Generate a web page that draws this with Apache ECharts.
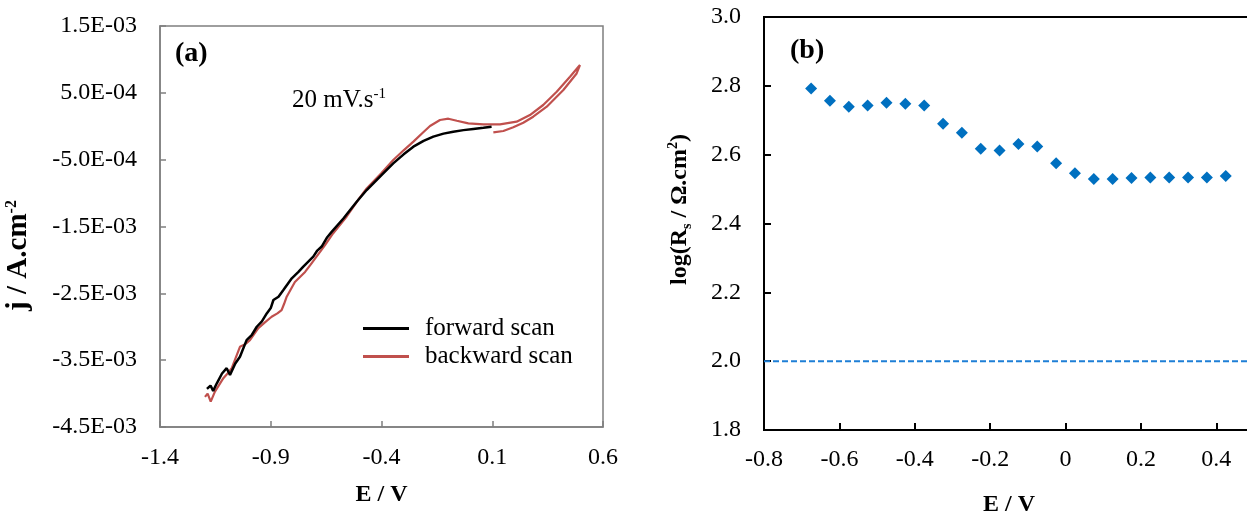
<!DOCTYPE html>
<html>
<head>
<meta charset="utf-8">
<script src="https://cdn.jsdelivr.net/npm/echarts@6/dist/echarts.min.js"></script>
<style>html,body{margin:0;padding:0;background:#fff}#c{width:1247px;height:515px}</style>
</head>
<body>
<div id="c"></div>
<script>
// ---------- Panel (a): linear sweep, E (V) vs j (A/cm^2) ----------
const forwardE = [-1.188,-1.172,-1.160,-1.144,-1.120,-1.099,-1.084,-1.060,-1.039,-1.009,-0.985,-0.963,-0.940,-0.918,-0.900,-0.888,-0.865,-0.843,-0.805,-0.775,-0.753,-0.708,-0.690,-0.670,-0.645,-0.625,-0.572,-0.512,-0.467,-0.400,-0.347,-0.300,-0.256,-0.210,-0.166,-0.120,-0.076,-0.030,0.0145,0.060,0.097];
const forwardJ = [-3.93e-3,-3.88e-3,-3.96e-3,-3.85e-3,-3.70e-3,-3.62e-3,-3.72e-3,-3.55e-3,-3.45e-3,-3.20e-3,-3.12e-3,-3.00e-3,-2.92e-3,-2.80e-3,-2.72e-3,-2.60e-3,-2.55e-3,-2.45e-3,-2.275e-3,-2.18e-3,-2.10e-3,-1.95e-3,-1.86e-3,-1.80e-3,-1.66e-3,-1.58e-3,-1.38e-3,-1.13e-3,-0.954e-3,-0.73e-3,-0.555e-3,-0.42e-3,-0.306e-3,-0.22e-3,-0.156e-3,-0.11e-3,-0.081e-3,-0.058e-3,-0.04e-3,-0.022e-3,-0.007e-3];

const backwardE = [-1.197,-1.185,-1.171,-1.152,-1.135,-1.114,-1.095,-1.076,-1.060,-1.039,-1.015,-0.994,-0.956,-0.925,-0.896,-0.870,-0.851,-0.840,-0.828,-0.791,-0.745,-0.720,-0.700,-0.655,-0.618,-0.557,-0.505,-0.467,-0.400,-0.347,-0.300,-0.256,-0.215,-0.181,-0.136,-0.098,-0.060,-0.008,0.060,0.135,0.210,0.270,0.330,0.391,0.451,0.496,0.481,0.421,0.346,0.285,0.240,0.195,0.150,0.105];
const backwardJ = [-4.05e-3,-4.00e-3,-4.12e-3,-3.97e-3,-3.88e-3,-3.77e-3,-3.70e-3,-3.62e-3,-3.48e-3,-3.30e-3,-3.26e-3,-3.20e-3,-3.02e-3,-2.93e-3,-2.85e-3,-2.80e-3,-2.75e-3,-2.66e-3,-2.55e-3,-2.33e-3,-2.18e-3,-2.07e-3,-1.98e-3,-1.78e-3,-1.60e-3,-1.35e-3,-1.10e-3,-0.93e-3,-0.70e-3,-0.505e-3,-0.36e-3,-0.23e-3,-0.10e-3,0.004e-3,0.093e-3,0.113e-3,0.083e-3,0.044e-3,0.029e-3,0.029e-3,0.068e-3,0.168e-3,0.318e-3,0.517e-3,0.741e-3,0.916e-3,0.79e-3,0.542e-3,0.292e-3,0.143e-3,0.053e-3,-0.016e-3,-0.071e-3,-0.091e-3];

const xTicksA = [-1.4,-0.9,-0.4,0.1,0.6];
const yTicksA = [-4.5e-3,-3.5e-3,-2.5e-3,-1.5e-3,-5.0e-4,5.0e-4,1.5e-3];

// ---------- Panel (b): log(Rs) vs E ----------
const rsE = [-0.675,-0.625,-0.575,-0.525,-0.475,-0.425,-0.375,-0.325,-0.275,-0.225,-0.175,-0.125,-0.075,-0.025,0.025,0.075,0.125,0.175,0.225,0.275,0.325,0.375,0.425];
const rsLog = [2.792,2.757,2.739,2.743,2.751,2.748,2.743,2.690,2.664,2.617,2.612,2.631,2.624,2.575,2.546,2.529,2.529,2.532,2.534,2.534,2.534,2.534,2.538];
const refLevel = 2.0;
const refE = [-0.8, 0.5];

const xTicksB = [-0.8,-0.6,-0.4,-0.2,0,0.2,0.4];
const yTicksB = [1.8,2.0,2.2,2.4,2.6,2.8,3.0];

const FONT = 'Liberation Serif';
const zip = (a, b) => a.map((v, i) => [v, b[i]]);
const sci = v => {
  const parts = v.toExponential(1).split('e');
  const e = parseInt(parts[1], 10);
  return parts[0] + 'E' + (e < 0 ? '-' : '+') + String(Math.abs(e)).padStart(2, '0');
};

const chart = echarts.init(document.getElementById('c'), null, {renderer: 'canvas'});
const grayLine = {color: '#7f7f7f', width: 1.5};
const blackLine = {color: '#000', width: 2};
const TICK = 24;

chart.setOption({
  animation: false,
  backgroundColor: '#fff',
  textStyle: {fontFamily: FONT},
  title: [
    {text: '(a)', left: 175, top: 40, padding: 0,
     textStyle: {fontSize: 28, fontWeight: 'bold', color: '#000', fontFamily: FONT}},
    {text: '(b)', left: 790, top: 37, padding: 0,
     textStyle: {fontSize: 28, fontWeight: 'bold', color: '#000', fontFamily: FONT}},
    {text: '{n|20 mV.s}{s|-1}', left: 292, top: 87, padding: 0,
     textStyle: {fontFamily: FONT, fontWeight: 'normal', color: '#000', rich: {
       n: {fontSize: 25, fontWeight: 'normal', fontFamily: FONT, color: '#000', lineHeight: 26},
       s: {fontSize: 15, fontWeight: 'normal', fontFamily: FONT, color: '#000', verticalAlign: 'top', lineHeight: 26}
     }}}
  ],
  legend: {
    data: ['forward scan', 'backward scan'],
    orient: 'vertical', left: 363, top: 316, padding: 0,
    icon: 'rect', itemWidth: 46, itemHeight: 3, itemGap: 3,
    textStyle: {fontSize: 25, color: '#000', fontFamily: FONT, padding: [0, 0, 0, 11]}
  },
  grid: [
    {left: 160, top: 26, width: 443, height: 401, show: true, borderColor: '#7f7f7f', borderWidth: 1.5, outerBoundsMode: 'none', containLabel: false},
    {left: 764, top: 17, width: 490, height: 413, show: true, borderColor: '#000', borderWidth: 2, outerBoundsMode: 'none', containLabel: false}
  ],
  xAxis: [
    {type: 'value', gridIndex: 0, min: -1.4, max: 0.6,
     axisLine: {show: true, onZero: false, lineStyle: grayLine},
     axisTick: {show: true, inside: true, length: 6, customValues: xTicksA, lineStyle: grayLine},
     axisLabel: {customValues: xTicksA, formatter: v => v.toFixed(1), fontSize: TICK, color: '#000', fontFamily: FONT, margin: 19},
     splitLine: {show: false},
     name: 'E / V', nameLocation: 'middle', nameGap: 56,
     nameTextStyle: {fontWeight: 'bold', fontSize: 24, color: '#000', fontFamily: FONT}},
    {type: 'value', gridIndex: 1, min: -0.8, max: 0.5,
     axisLine: {show: true, onZero: false, lineStyle: blackLine},
     axisTick: {show: true, inside: true, length: 7, customValues: xTicksB, lineStyle: blackLine},
     axisLabel: {customValues: xTicksB, formatter: v => (Math.abs(v) < 1e-9 ? '0' : v.toFixed(1)), fontSize: TICK, color: '#000', fontFamily: FONT, margin: 18},
     splitLine: {show: false},
     name: 'E / V', nameLocation: 'middle', nameGap: 63,
     nameTextStyle: {fontWeight: 'bold', fontSize: 24, color: '#000', fontFamily: FONT}}
  ],
  yAxis: [
    {type: 'value', gridIndex: 0, min: -4.5e-3, max: 1.5e-3,
     axisLine: {show: true, onZero: false, lineStyle: grayLine},
     axisTick: {show: true, inside: true, length: 6, customValues: yTicksA, lineStyle: grayLine},
     axisLabel: {customValues: yTicksA, formatter: v => sci(v), fontSize: TICK, color: '#000', fontFamily: FONT, margin: 23},
     splitLine: {show: false},
     name: '{b|j / A.cm}{p|-2}', nameLocation: 'middle', nameGap: 126, nameRotate: 90,
     nameTextStyle: {fontWeight: 'bold', fontSize: 29, color: '#000', fontFamily: FONT, padding: [0, 58, 0, 0],
       rich: {
         b: {fontWeight: 'bold', fontSize: 29, color: '#000', fontFamily: FONT, lineHeight: 30},
         p: {fontWeight: 'bold', fontSize: 16, color: '#000', fontFamily: FONT, verticalAlign: 'top', lineHeight: 30}
       }}},
    {type: 'value', gridIndex: 1, min: 1.8, max: 3.0,
     axisLine: {show: true, onZero: false, lineStyle: blackLine},
     axisTick: {show: true, inside: true, length: 7, customValues: yTicksB, lineStyle: blackLine},
     axisLabel: {customValues: yTicksB, formatter: v => v.toFixed(1), fontSize: TICK, color: '#000', fontFamily: FONT, margin: 23},
     splitLine: {show: false},
     name: '{b|log(R}{sub|s}{b| / Ω.cm}{p|2}{b|)}', nameLocation: 'middle', nameGap: 70, nameRotate: 90,
     nameTextStyle: {fontWeight: 'bold', fontSize: 24, color: '#000', fontFamily: FONT, padding: [0, 0, 0, 28],
       rich: {
         b: {fontWeight: 'bold', fontSize: 24, color: '#000', fontFamily: FONT, lineHeight: 28},
         sub: {fontWeight: 'bold', fontSize: 14, color: '#000', fontFamily: FONT, verticalAlign: 'bottom', lineHeight: 28},
         p: {fontWeight: 'bold', fontSize: 14, color: '#000', fontFamily: FONT, verticalAlign: 'top', lineHeight: 28}
       }}}
  ],
  series: [
    {name: 'forward scan', type: 'line', xAxisIndex: 0, yAxisIndex: 0, data: zip(forwardE, forwardJ),
     showSymbol: false, symbol: 'none', color: '#000', lineStyle: {color: '#000', width: 2.5}, z: 3},
    {name: 'backward scan', type: 'line', xAxisIndex: 0, yAxisIndex: 0, data: zip(backwardE, backwardJ),
     showSymbol: false, symbol: 'none', color: '#C0504D', lineStyle: {color: '#C0504D', width: 2.2}, z: 2},
    {name: 'log Rs', type: 'scatter', xAxisIndex: 1, yAxisIndex: 1, data: zip(rsE, rsLog),
     symbol: 'diamond', symbolSize: 12, itemStyle: {color: '#0070C0', opacity: 1}, z: 3},
    {name: 'reference', type: 'line', xAxisIndex: 1, yAxisIndex: 1, data: refE.map(e => [e, refLevel]),
     showSymbol: false, symbol: 'none', lineStyle: {color: '#1E7FD6', width: 2, type: [6, 3]}, z: 2}
  ]
});
</script>
</body>
</html>
